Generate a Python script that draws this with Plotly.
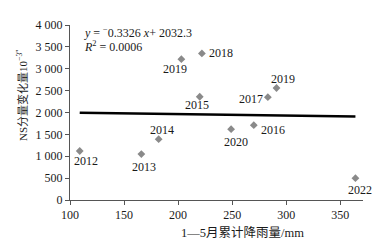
import plotly.graph_objects as go

# data
years = ["2012", "2013", "2014", "2019", "2018", "2015", "2020", "2016", "2017", "2019", "2022"]
rain = [109, 166, 182, 203, 222, 220, 249, 270, 283, 291, 364]
ns_change = [1120, 1050, 1390, 3220, 3350, 2360, 1620, 1710, 2350, 2560, 500]
slope = -0.3326
intercept = 2032.3
x_ticks = [100, 150, 200, 250, 300, 350]
y_ticks = [0, 500, 1000, 1500, 2000, 2500, 3000, 3500, 4000]
y_tick_text = ["0", "500", "1 000", "1 500", "2 000", "2 500", "3 000", "3 500", "4 000"]

# label offsets (pixels, style)
label_dx = [6, 3, 3, -6, 19, -3, 5, 19, -17, 6, 5]
label_dy = [-10, -13, 9, -10, 0, -8, -13, -5, -2, 9, -12]

FONT = "Liberation Serif, Noto Sans CJK SC, serif"
TXT = "#1a1a1a"

fig = go.Figure()

xmin, xmax = min(rain), max(rain)
fig.add_trace(go.Scatter(
    x=[xmin, xmax], y=[slope * xmin + intercept, slope * xmax + intercept],
    mode="lines", line=dict(color="black", width=2.5), hoverinfo="skip", showlegend=False))

fig.add_trace(go.Scatter(
    x=rain, y=ns_change, mode="markers",
    marker=dict(symbol="diamond", size=6, color="#8a8a8a"), showlegend=False))

for xv, yv, t, dx, dy in zip(rain, ns_change, years, label_dx, label_dy):
    fig.add_annotation(x=xv, y=yv, text=t, showarrow=False, xshift=dx, yshift=dy,
                       font=dict(family=FONT, size=12, color=TXT))

fig.add_annotation(xref="paper", yref="paper", x=0.04, y=0.96, xanchor="left", yanchor="middle",
                   text=f"<i>y</i> = <sup>−</sup>{abs(slope)} <i>x</i>+ {intercept}", showarrow=False,
                   font=dict(family=FONT, size=12, color=TXT))
fig.add_annotation(xref="paper", yref="paper", x=0.04, y=0.88, xanchor="left", yanchor="middle",
                   text="<i>R</i><sup>2</sup> = 0.0006", showarrow=False,
                   font=dict(family=FONT, size=12, color=TXT))

fig.add_annotation(xref="paper", yref="paper", x=0.588, y=-0.19, xanchor="center", yanchor="middle",
                   text="1—5月累计降雨量/mm", showarrow=False,
                   font=dict(family=FONT, size=12.5, color=TXT))
fig.add_annotation(xref="paper", yref="paper", x=-0.164, y=0.6, xanchor="center", yanchor="middle",
                   text="NS分量变化量10<sup>−3″</sup>", textangle=-90, showarrow=False,
                   font=dict(family=FONT, size=11, color=TXT))

fig.update_xaxes(range=[100, 371], tickvals=x_ticks, showgrid=False, zeroline=False,
                 showline=True, linecolor="#555", linewidth=1, ticks="outside", ticklen=4,
                 tickcolor="#555", tickfont=dict(family=FONT, size=12, color=TXT))
fig.update_yaxes(range=[0, 4000], tickvals=y_ticks, ticktext=y_tick_text, showgrid=False,
                 zeroline=False, showline=True, linecolor="#555", linewidth=1, ticks="outside",
                 ticklen=4, tickcolor="#555", tickfont=dict(family=FONT, size=12, color=TXT))

fig.update_layout(width=381, height=245, margin=dict(l=70, r=18, t=25, b=45),
                  paper_bgcolor="white", plot_bgcolor="white", showlegend=False)

fig.write_html("out.html", config={"displayModeBar": False},
               post_script="document.body.style.margin='0';document.body.style.padding='0';")
